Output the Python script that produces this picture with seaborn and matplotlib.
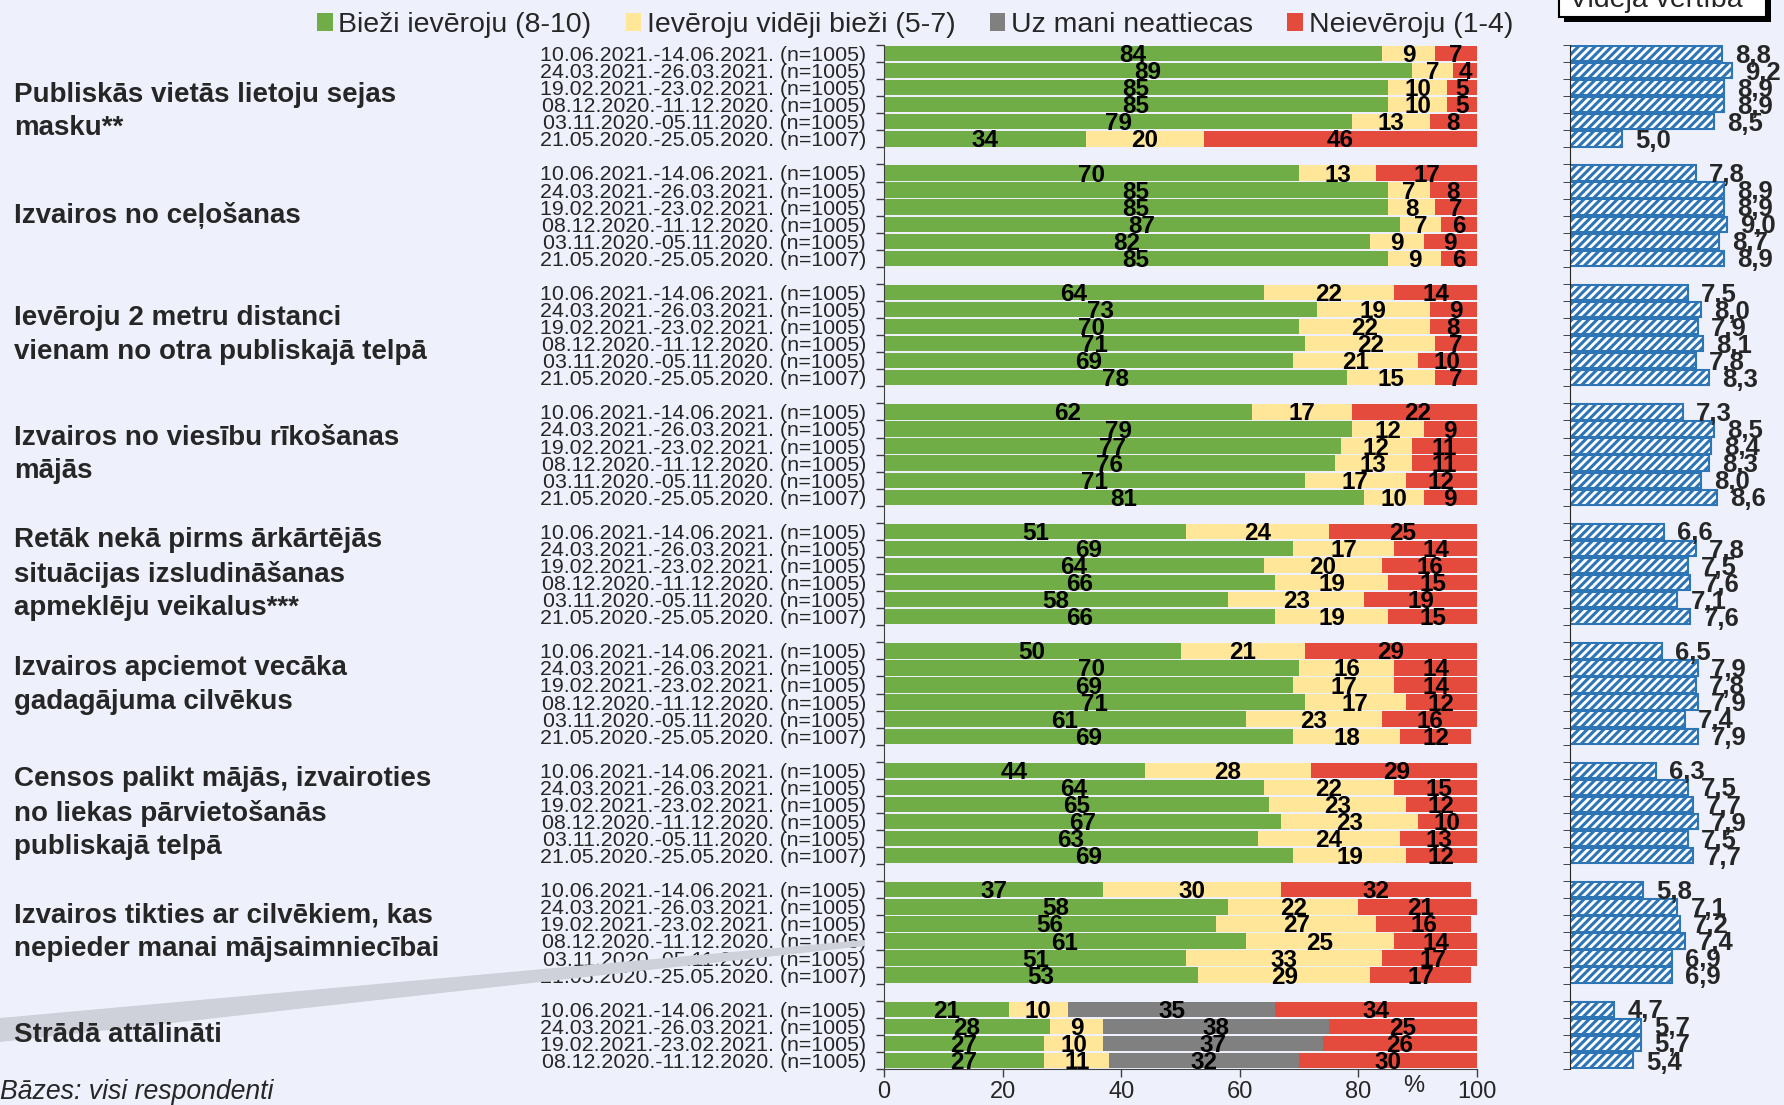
import numpy as np
import pandas as pd
import matplotlib
matplotlib.use("Agg")
import matplotlib.pyplot as plt
from matplotlib.patches import Patch, Polygon, Rectangle
import seaborn as sns

# statements (one block of bars each)
statements = [
    "Publiskās vietās lietoju sejas\nmasku**",
    "Izvairos no ceļošanas",
    "Ievēroju 2 metru distanci\nvienam no otra publiskajā telpā",
    "Izvairos no viesību rīkošanas\nmājās",
    "Retāk nekā pirms ārkārtējās\nsituācijas izsludināšanas\napmeklēju veikalus***",
    "Izvairos apciemot vecāka\ngadagājuma cilvēkus",
    "Censos palikt mājās, izvairoties\nno liekas pārvietošanās\npubliskajā telpā",
    "Izvairos tikties ar cilvēkiem, kas\nnepieder manai mājsaimniecībai",
    "Strādā attālināti",
]

periods = [
    "10.06.2021.-14.06.2021. (n=1005)",
    "24.03.2021.-26.03.2021. (n=1005)",
    "19.02.2021.-23.02.2021. (n=1005)",
    "08.12.2020.-11.12.2020. (n=1005)",
    "03.11.2020.-05.11.2020. (n=1005)",
    "21.05.2020.-25.05.2020. (n=1007)",
]

# % "Bieži ievēroju (8-10)"
often = [
    [84, 89, 85, 85, 79, 34],
    [70, 85, 85, 87, 82, 85],
    [64, 73, 70, 71, 69, 78],
    [62, 79, 77, 76, 71, 81],
    [51, 69, 64, 66, 58, 66],
    [50, 70, 69, 71, 61, 69],
    [44, 64, 65, 67, 63, 69],
    [37, 58, 56, 61, 51, 53],
    [21, 28, 27, 27],
]
# % "Ievēroju vidēji bieži (5-7)"
medium = [
    [9, 7, 10, 10, 13, 20],
    [13, 7, 8, 7, 9, 9],
    [22, 19, 22, 22, 21, 15],
    [17, 12, 12, 13, 17, 10],
    [24, 17, 20, 19, 23, 19],
    [21, 16, 17, 17, 23, 18],
    [28, 22, 23, 23, 24, 19],
    [30, 22, 27, 25, 33, 29],
    [10, 9, 10, 11],
]
# % "Uz mani neattiecas" (only asked for remote work)
not_relevant = [35, 38, 37, 32]
# % "Neievēroju (1-4)"
never = [
    [7, 4, 5, 5, 8, 46],
    [17, 8, 7, 6, 9, 6],
    [14, 9, 8, 7, 10, 7],
    [22, 9, 11, 11, 12, 9],
    [25, 14, 16, 15, 19, 15],
    [29, 14, 14, 12, 16, 12],
    [29, 15, 12, 10, 13, 12],
    [32, 21, 16, 14, 17, 17],
    [34, 25, 26, 30],
]
# "Vidējā vērtība"
means = [
    [8.8, 9.2, 8.9, 8.9, 8.5, 5.0],
    [7.8, 8.9, 8.9, 9.0, 8.7, 8.9],
    [7.5, 8.0, 7.9, 8.1, 7.8, 8.3],
    [7.3, 8.5, 8.4, 8.3, 8.0, 8.6],
    [6.6, 7.8, 7.5, 7.6, 7.1, 7.6],
    [6.5, 7.9, 7.8, 7.9, 7.4, 7.9],
    [6.3, 7.5, 7.7, 7.9, 7.5, 7.7],
    [5.8, 7.1, 7.2, 7.4, 6.9, 6.9],
    [4.7, 5.7, 5.7, 5.4],
]

legend_labels = ["Bieži ievēroju (8-10)", "Ievēroju vidēji bieži (5-7)",
                 "Uz mani neattiecas", "Neievēroju (1-4)"]

GREEN, YELLOW, GREY, RED = "#70AD47", "#FFE699", "#808080", "#E54B3C"
BLUE = "#2E75B6"
BG = "#EEF0FB"

# long table, one row per bar; every block takes 7 slots (6 bars + gap)
rows = []
for g in range(len(statements)):
    for r in range(len(often[g])):
        grey = not_relevant[r] if g == len(statements) - 1 else 0
        rows.append(dict(slot=7 * g + r, group=g, period=periods[r],
                         often=often[g][r], medium=medium[g][r], grey=grey,
                         never=never[g][r], mean=means[g][r]))
df = pd.DataFrame(rows)
df["c1"] = df["often"]
df["c2"] = df["c1"] + df["medium"]
df["c3"] = df["c2"] + df["grey"]
df["c4"] = df["c3"] + df["never"]
n_slots = df["slot"].max() + 1

sns.set_style("white")
plt.rcParams["font.family"] = ["Liberation Sans", "DejaVu Sans"]
plt.rcParams["hatch.linewidth"] = 2.2

fig = plt.figure(figsize=(17.84, 11.05), dpi=100, facecolor=BG)
W, H = 1784, 1105
y_top, y_bot = 45, 1069
ax = fig.add_axes([884 / W, 1 - y_bot / H, (1477 - 884) / W, (y_bot - y_top) / H])
ax2 = fig.add_axes([1570 / W, 1 - y_bot / H, 212 / W, (y_bot - y_top) / H])
for a in (ax, ax2):
    a.set_facecolor("none")

# stacked bars: draw cumulative totals from the back to the front
for col, colour in [("c4", RED), ("c3", GREY), ("c2", YELLOW), ("c1", GREEN)]:
    sns.barplot(data=df, x=col, y="slot", orient="h", native_scale=True,
                color=colour, saturation=1, width=0.9, errorbar=None,
                linewidth=0, ax=ax)

for _, row in df.iterrows():
    start = 0
    for key in ["often", "medium", "grey", "never"]:
        v = row[key]
        if v > 0:
            ax.text(start + v / 2, row["slot"] + 0.12, f"{v:d}", ha="center", va="center",
                    fontsize=17.5, fontweight="bold", color="black")
        start += v

ax.set_xlim(0, 100)
ax.set_ylim(n_slots - 0.5, -0.5)
ax.set_xticks([0, 20, 40, 60, 80, 100])
ax.set_yticks(df["slot"], labels=df["period"])
ax.set_yticks(np.arange(-0.5, n_slots), minor=True)
ax.tick_params(axis="y", which="major", length=0, pad=13, labelsize=15.4)
ax.tick_params(axis="y", which="minor", length=6, width=1, color="#404040", left=True)
ax.tick_params(axis="x", length=6, width=1, color="#404040", labelsize=17, pad=3, bottom=True)
ax.set_xlabel("")
ax.set_ylabel("")
sns.despine(ax=ax)
for s in ("left", "bottom"):
    ax.spines[s].set_color("#404040")

# mean score panel
sns.barplot(data=df, x="mean", y="slot", orient="h", native_scale=True,
            color="white", saturation=1, width=0.9, errorbar=None,
            edgecolor=BLUE, linewidth=1.5, hatch="////", ax=ax2)
for _, row in df.iterrows():
    ax2.text(row["mean"] + 0.5, row["slot"] + 0.12, f"{row['mean']:.1f}".replace(".", ","),
             ha="left", va="center", fontsize=18.5, fontweight="bold")
ax2.set_xlim(3, 11.1)
ax2.set_ylim(n_slots - 0.5, -0.5)
ax2.set_yticks([])
ax2.set_yticks(np.arange(-0.5, n_slots), minor=True)
ax2.tick_params(axis="y", which="minor", length=5, left=True)
ax2.set_xticks([])
ax2.set_xlabel("")
ax2.set_ylabel("")
sns.despine(ax=ax2, bottom=True)

# decorative grey wedge behind the last label
fig.patches.append(Polygon([(0, 1 - 1018 / H), (865 / W, 1 - 940 / H),
                            (865 / W, 1 - 946 / H), (0, 1 - 1042 / H)],
                           closed=True, transform=fig.transFigure,
                           facecolor="#CED1D9", edgecolor="none", zorder=0))

# statement labels, centred on their block
for g, text in enumerate(statements):
    n = len(often[g])
    yc = 7 * g + (n - 1) / 2
    if g == 0:
        yc += 0.9
    if g == 5:
        yc -= 0.5
    y_fig = 1 - (y_top + (yc + 0.5) * (y_bot - y_top) / n_slots) / H
    fig.text(14 / W, y_fig, text, ha="left", va="center", fontsize=20,
             fontweight="bold", linespacing=1.38)

handles = [Patch(facecolor=c, edgecolor="none") for c in (GREEN, YELLOW, GREY, RED)]
fig.legend(handles, legend_labels, loc="center", bbox_to_anchor=(915 / W, 1 - 25 / H),
           ncol=4, frameon=False, fontsize=20.5, handlelength=0.55, handleheight=0.55,
           handletextpad=0.2, columnspacing=1.2)

# "Vidējā vērtība" header box, cut by the top edge
fig.patches.append(Rectangle((1564 / W, 1 - 22 / H), 207 / W, 60 / H,
                             transform=fig.transFigure, facecolor="black",
                             edgecolor="none", zorder=1))
fig.patches.append(Rectangle((1559 / W, 1 - 17 / H), 207 / W, 60 / H,
                             transform=fig.transFigure, facecolor="white",
                             edgecolor="black", linewidth=1.5, zorder=2))
fig.text(1656 / W, 1 - 7 / H, "Vidējā vērtība", ha="center", va="baseline",
         fontsize=20.5, zorder=3)

fig.text(1414 / W, 1 - 1086 / H, "%", ha="center", va="center", fontsize=17)
fig.text(0, 1 - 1092 / H, "Bāzes: visi respondenti", ha="left", va="center",
         fontsize=19.2, style="italic")

fig.savefig("out.png", dpi=100, facecolor=BG)
